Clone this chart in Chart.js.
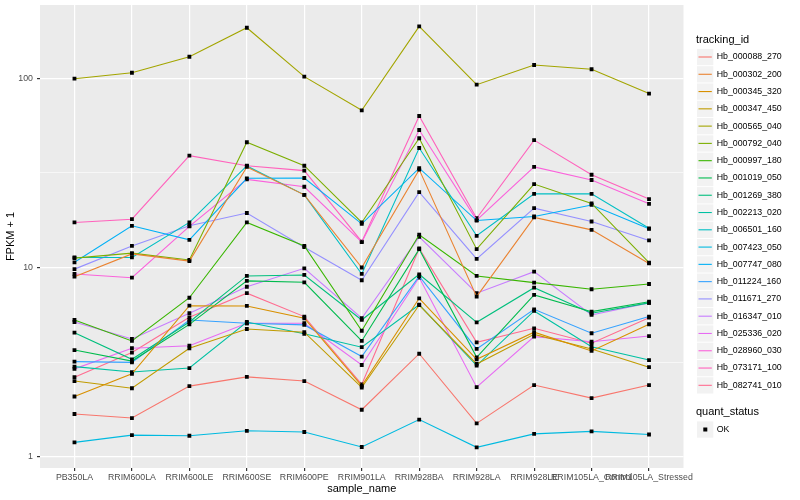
<!DOCTYPE html>
<html>
<head>
<meta charset="utf-8">
<script src="https://cdn.jsdelivr.net/npm/chart.js@4.4.1/dist/chart.umd.min.js"></script>
<style>
  html, body { margin: 0; padding: 0; background: #ffffff; }
</style>
</head>
<body>
<canvas id="fpkm" width="800" height="500"></canvas>
<script>
const sampleNames = [
  "PB350LA", "RRIM600LA", "RRIM600LE", "RRIM600SE", "RRIM600PE", "RRIM901LA",
  "RRIM928BA", "RRIM928LA", "RRIM928LE", "RRIM105LA_Control", "RRIM105LA_Stressed",
];

const trackingIds = [
  "Hb_000088_270", "Hb_000302_200", "Hb_000345_320", "Hb_000347_450", "Hb_000565_040",
  "Hb_000792_040", "Hb_000997_180", "Hb_001019_050", "Hb_001269_380", "Hb_002213_020",
  "Hb_006501_160", "Hb_007423_050", "Hb_007747_080", "Hb_011224_160", "Hb_011671_270",
  "Hb_016347_010", "Hb_025336_020", "Hb_028960_030", "Hb_073171_100", "Hb_082741_010",
];

const hueColors = [
  "#F8766D", "#EA8331", "#D89000", "#C09B00", "#A3A500",
  "#7CAE00", "#39B600", "#00BB4E", "#00BF7D", "#00C1A3",
  "#00BFC4", "#00BAE0", "#00B0F6", "#35A2FF", "#9590FF",
  "#C77CFF", "#E76BF3", "#FA62DB", "#FF62BC", "#FF6C90",
];

// FPKM + 1, one value per sample
const hb000088_270 = [1.68, 1.60, 2.36, 2.64, 2.51, 1.77, 3.50, 1.50, 2.39, 2.04, 2.39];
const hb000302_200 = [8.94, 11.8, 10.8, 34.0, 24.2, 10.0, 32.9, 7.01, 18.4, 15.8, 10.5];
const hb000345_320 = [2.08, 2.74, 6.28, 6.26, 5.39, 2.37, 6.87, 3.27, 4.55, 3.62, 5.01];
const hb000347_450 = [2.51, 2.30, 3.74, 4.73, 4.55, 2.32, 6.33, 3.09, 4.43, 3.71, 2.97];
const hb000565_040 = [99.5, 107, 130, 185, 102, 67.7, 188, 92.5, 117.6, 111.6, 83];
const hb000792_040 = [11.2, 11.9, 10.96, 45.9, 34.5, 17.3, 48.2, 12.5, 27.6, 21.8, 10.6];
const hb000997_180 = [5.28, 4.09, 6.92, 17.3, 13.0, 4.63, 14.9, 9.02, 8.32, 7.67, 8.18];
const hb001019_050 = [3.66, 3.20, 5.00, 8.49, 8.35, 4.09, 12.5, 3.35, 7.16, 5.84, 6.59];
const hb001269_380 = [4.52, 3.27, 5.15, 9.02, 9.13, 5.28, 9.20, 5.13, 7.82, 5.73, 6.50];
const hb002213_020 = [2.99, 2.80, 2.94, 5.15, 4.46, 3.79, 6.35, 3.03, 5.89, 3.81, 3.24];
const hb006501_160 = [11.3, 11.3, 17.3, 34.4, 24.2, 9.24, 42.8, 14.7, 24.5, 24.5, 16.1];
const hb007423_050 = [1.19, 1.30, 1.29, 1.37, 1.35, 1.125, 1.57, 1.12, 1.32, 1.36, 1.31];
const hb007747_080 = [10.65, 16.6, 14.0, 29.6, 29.7, 17.0, 33.5, 17.7, 18.6, 21.4, 16.0];
const hb011224_160 = [3.18, 3.15, 5.28, 5.07, 4.97, 3.38, 9.00, 3.71, 6.01, 4.49, 5.50];
const hb011671_270 = [9.80, 13.0, 16.6, 19.4, 12.8, 8.56, 25.0, 11.1, 20.6, 17.5, 13.9];
const hb016347_010 = [5.15, 4.19, 5.73, 7.91, 9.90, 5.39, 14.5, 7.31, 9.50, 5.61, 6.50];
const hb025336_020 = [2.91, 3.74, 3.86, 5.07, 5.07, 3.05, 8.85, 2.33, 4.31, 4.05, 4.34];
const hb028960_030 = [9.24, 8.83, 16.5, 29.2, 26.7, 13.6, 53.3, 17.8, 34.0, 29.0, 21.7];
const hb073171_100 = [17.3, 18.0, 39.0, 34.5, 32.5, 13.7, 63.2, 18.2, 47.1, 30.9, 23.0];
const hb082741_010 = [2.63, 3.55, 5.45, 7.31, 5.50, 2.41, 12.6, 4.02, 4.77, 3.98, 5.43];

const seriesValues = [
  hb000088_270, hb000302_200, hb000345_320, hb000347_450, hb000565_040,
  hb000792_040, hb000997_180, hb001019_050, hb001269_380, hb002213_020,
  hb006501_160, hb007423_050, hb007747_080, hb011224_160, hb011671_270,
  hb016347_010, hb025336_020, hb028960_030, hb073171_100, hb082741_010,
];

const majorTicks = [1, 10, 100];
const gridTicks = [1, 3.1623, 10, 31.623, 100];

(() => {
  const fontFamily = "'Liberation Sans', Arial, sans-serif";

  const panelBackground = {
    id: "panelBackground",
    beforeDraw: (chart) => {
      const { ctx, chartArea } = chart;
      ctx.save();
      ctx.fillStyle = "#EBEBEB";
      ctx.fillRect(
        chartArea.left,
        chartArea.top,
        chartArea.right - chartArea.left,
        chartArea.bottom - chartArea.top
      );
      ctx.restore();
    },
  };

  // ggplot style legend: one block for the lines, one for the points
  const sideLegend = {
    id: "sideLegend",
    afterDraw: (chart) => {
      const { ctx } = chart;
      const keyX = 697;
      const step = 17.28;

      ctx.save();
      ctx.textBaseline = "middle";
      ctx.textAlign = "left";
      ctx.fillStyle = "#000000";
      ctx.font = "11px " + fontFamily;
      ctx.fillText("tracking_id", 696, 40);

      ctx.font = "8.8px " + fontFamily;
      chart.data.datasets.forEach((ds, i) => {
        const cy = 57 + i * step;
        ctx.fillStyle = "#F2F2F2";
        ctx.fillRect(keyX, cy - 8.1, 16.3, 16.3);
        ctx.strokeStyle = ds.borderColor;
        ctx.lineWidth = 1.1;
        ctx.beginPath();
        ctx.moveTo(keyX + 1.5, cy);
        ctx.lineTo(keyX + 14.8, cy);
        ctx.stroke();
        ctx.fillStyle = "#000000";
        ctx.fillText(ds.label, 716.7, cy);
      });

      ctx.font = "11px " + fontFamily;
      ctx.fillText("quant_status", 696, 412);
      ctx.fillStyle = "#F2F2F2";
      ctx.fillRect(keyX, 429.5 - 8.1, 16.3, 16.3);
      ctx.fillStyle = "#000000";
      ctx.fillRect(keyX + 6.3, 427.5, 4, 4);
      ctx.font = "8.8px " + fontFamily;
      ctx.fillText("OK", 716.7, 429.5);
      ctx.restore();
    },
  };

  const datasets = trackingIds.map((id, i) => ({
    label: id,
    data: seriesValues[i].map((v, j) => ({ x: j, y: v })),
    borderColor: hueColors[i],
    backgroundColor: hueColors[i],
    borderWidth: 1.1,
    tension: 0,
    fill: false,
    pointStyle: "rect",
    pointRadius: 2.7,
    pointBorderWidth: 0,
    pointBackgroundColor: "#000000",
    pointBorderColor: "#000000",
  }));

  const config = {
    type: "line",
    data: { datasets: datasets },
    plugins: [panelBackground, sideLegend],
    options: {
      responsive: false,
      animation: false,
      layout: {
        padding: { top: 5, right: 116.5, left: 0, bottom: 0 },
      },
      plugins: {
        legend: { display: false },
        tooltip: { enabled: false },
      },
      scales: {
        x: {
          type: "linear",
          min: -0.6,
          max: 10.6,
          afterBuildTicks: (scale) => {
            scale.ticks = sampleNames.map((_, i) => ({ value: i }));
          },
          afterFit: (scale) => {
            scale.height = 32;
            scale.paddingLeft = 0;
            scale.paddingRight = 0;
          },
          border: { display: false },
          grid: {
            color: "#FFFFFF",
            lineWidth: 1.2,
            tickColor: "#333333",
            tickLength: 3,
          },
          ticks: {
            autoSkip: false,
            maxRotation: 0,
            minRotation: 0,
            padding: 1,
            color: "#4D4D4D",
            font: { family: fontFamily, size: 8.8 },
            callback: (value) => sampleNames[value],
          },
          title: {
            display: true,
            text: "sample_name",
            color: "#000000",
            font: { family: fontFamily, size: 11 },
            padding: { top: 0, bottom: 4 },
          },
        },
        y: {
          type: "logarithmic",
          min: 0.871,
          max: 244,
          afterBuildTicks: (scale) => {
            scale.ticks = gridTicks.map((v) => ({ value: v }));
          },
          afterFit: (scale) => {
            scale.width = 40;
            scale.paddingTop = 0;
            scale.paddingBottom = 0;
          },
          border: { display: false },
          grid: {
            color: "#FFFFFF",
            lineWidth: (context) =>
              majorTicks.includes(context.tick.value) ? 1.2 : 0.6,
            tickColor: (context) =>
              majorTicks.includes(context.tick.value) ? "#333333" : "transparent",
            tickLength: 3,
          },
          ticks: {
            padding: 4,
            color: "#4D4D4D",
            font: { family: fontFamily, size: 8.8 },
            callback: (value) => (majorTicks.includes(value) ? String(value) : ""),
          },
          title: {
            display: true,
            text: "FPKM + 1",
            color: "#000000",
            font: { family: fontFamily, size: 11 },
            padding: { top: 4, bottom: 0 },
          },
        },
      },
    },
  };

  new Chart(document.getElementById("fpkm"), config);
})();
</script>
</body>
</html>
